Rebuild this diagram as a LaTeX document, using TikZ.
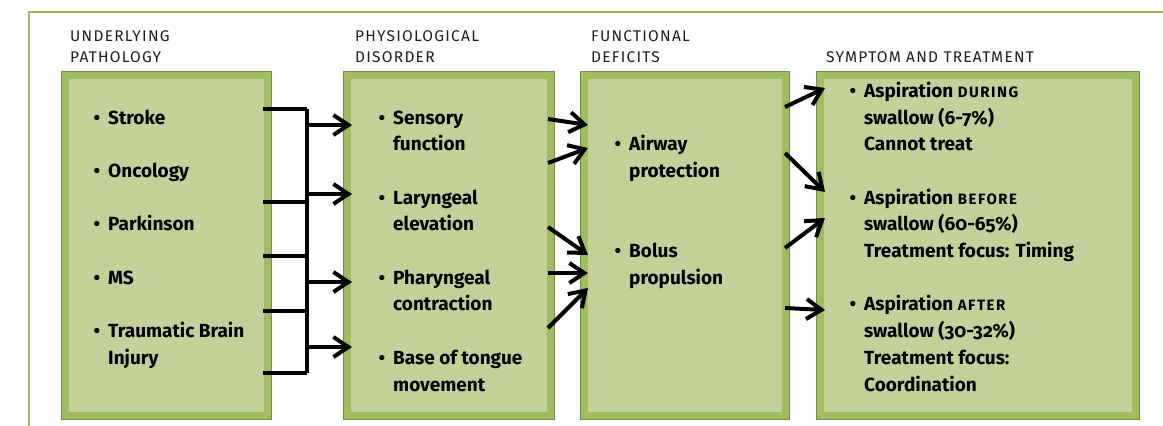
\documentclass[tikz,border=0pt]{standalone}
\usepackage{fontspec}
\setmainfont{Fira Sans}[Numbers=OldStyle]
\newfontfamily\headfont{Fira Sans}[LetterSpace=8]
\newfontfamily\capsfont{Fira Sans}[LetterSpace=10]
\usepackage{tikz}
\usetikzlibrary{arrows.meta}

\definecolor{framegreen}{RGB}{155,187,89}
\definecolor{boxfill}{RGB}{194,208,153}
\definecolor{boxband}{RGB}{160,190,95}
\definecolor{boxedge}{RGB}{118,138,72}
\definecolor{headgray}{RGB}{30,30,30}

\newcommand{\bul}{\llap{\textbullet\hspace{8pt}}}
\newcommand{\scw}[1]{{\capsfont\fontsize{15}{26.7}\selectfont #1}}

\tikzset{
  panel/.style={fill=boxfill,draw=boxband,line width=7pt,
    preaction={draw=boxedge,line width=9pt},
    minimum height=340pt,inner sep=0pt},
  head/.style={anchor=base west,align=left,inner sep=0pt,text=headgray,
    font=\headfont\fontsize{15.5}{21}\selectfont},
  item/.style={anchor=base west,align=left,inner sep=0pt,
    font=\bfseries\fontsize{19}{26.7}\selectfont},
  bar/.style={line width=3.2pt},
  link/.style={line width=4pt,-{Straight Barb[length=15pt,width=20pt]}},
}

\begin{document}
\begin{tikzpicture}[x=1pt,y=-1pt]
	 \useasboundingbox (0,0) rectangle (1163,426);
	 \draw[framegreen,line width=1.5pt](29,426)--(29,12)--(1163,12);
	 % column headings (placed at the last line)
	 \node[head](h1)at(70,62){UNDERLYING\\PATHOLOGY};
	 \node[head](h2)at(355,62){PHYSIOLOGICAL\\DISORDER};
	 \node[head](h3)at(591,62){FUNCTIONAL\\DEFICITS};
	 \node[head](h4)at(826,62){SYMPTOM AND TREATMENT};
	 % boxes
	 \node[panel,minimum width=202pt](pathbox)at(166.5,245.5){};
	 \node[panel,minimum width=203pt](disbox)at(449,245.5){};
	 \node[panel,minimum width=201pt](defbox)at(685,245.5){};
	 \node[panel,minimum width=315pt](symbox)at(978,245.5){};
	 % underlying pathology
	 \node[item](stroke)at(108,124){\bul Stroke};
	 \node[item](onco)at(108,177.4){\bul Oncology};
	 \node[item](park)at(108,230.8){\bul Parkinson};
	 \node[item](ms)at(108,284.2){\bul MS};
	 \node[item](tbi)at(108,364.3){\bul Traumatic Brain\\Injury};
	 % physiological disorder
	 \node[item](sens)at(393,150.7){\bul Sensory\\function};
	 \node[item](lar)at(393,230.8){\bul Laryngeal\\elevation};
	 \node[item](phar)at(393,310.9){\bul Pharyngeal\\contraction};
	 \node[item](tongue)at(393,391){\bul Base of tongue\\movement};
	 % functional deficits
	 \node[item](air)at(629,177.4){\bul Airway\\protection};
	 \node[item](bolus)at(629,284.2){\bul Bolus\\propulsion};
	 % symptom and treatment
	 \node[item](during)at(864,150.7){\bul Aspiration \scw{DURING}\\swallow (6-7\%)\\Cannot treat};
	 \node[item](before)at(864,257.5){\bul Aspiration \scw{BEFORE}\\swallow (60-65\%)\\Treatment focus: Timing};
	 \node[item](after)at(864,391){\bul Aspiration \scw{AFTER}\\swallow (30-32\%)\\Treatment focus:\\Coordination};
	 % bracket from pathology to disorder
	 \coordinate(o1)at(263,109);\coordinate(o2)at(263,202);\coordinate(o3)at(263,256);
	 \coordinate(o4)at(263,311);\coordinate(o5)at(263,373);
	 \coordinate(bt)at(307,109);\coordinate(bb)at(307,373);
	 \draw[bar](o1)--(bt);\draw[bar](o5)--(bb);
	 \draw[line width=4.5pt](bt)--(bb);
	 \draw[bar](o2)--(o2-|bt);\draw[bar](o3)--(o3-|bt);\draw[bar](o4)--(o4-|bt);
	 \coordinate(i1)at(352,125);\coordinate(i2)at(352,194);
	 \coordinate(i3)at(352,282);\coordinate(i4)at(352,347);
	 \draw[link](i1-|bt)--(i1);\draw[link](i2-|bt)--(i2);
	 \draw[link](i3-|bt)--(i3);\draw[link](i4-|bt)--(i4);
	 % disorder to deficits
	 \coordinate(d1)at(548,119);\coordinate(f1)at(588,125);
	 \coordinate(d2)at(548,163);\coordinate(f2)at(588,148);
	 \coordinate(d3)at(548,227);\coordinate(f3)at(588,255);
	 \coordinate(d4)at(548,273);\coordinate(f4)at(588,273);
	 \coordinate(d5)at(548,328);\coordinate(f5)at(588,288);
	 \draw[link](d1)--(f1);\draw[link](d2)--(f2);\draw[link](d3)--(f3);
	 \draw[link](d4)--(f4);\draw[link](d5)--(f5);
	 % deficits to symptoms
	 \coordinate(e1)at(785,107);\coordinate(s1)at(825,88);
	 \coordinate(e2)at(785,153);\coordinate(s2)at(825,192);
	 \coordinate(e3)at(785,248);\coordinate(s3)at(825,218);
	 \coordinate(e4)at(785,308);\coordinate(s4)at(825,310);
	 \draw[link](e1)--(s1);\draw[link](e2)--(s2);
	 \draw[link](e3)--(s3);\draw[link](e4)--(s4);
\end{tikzpicture}
\end{document}
